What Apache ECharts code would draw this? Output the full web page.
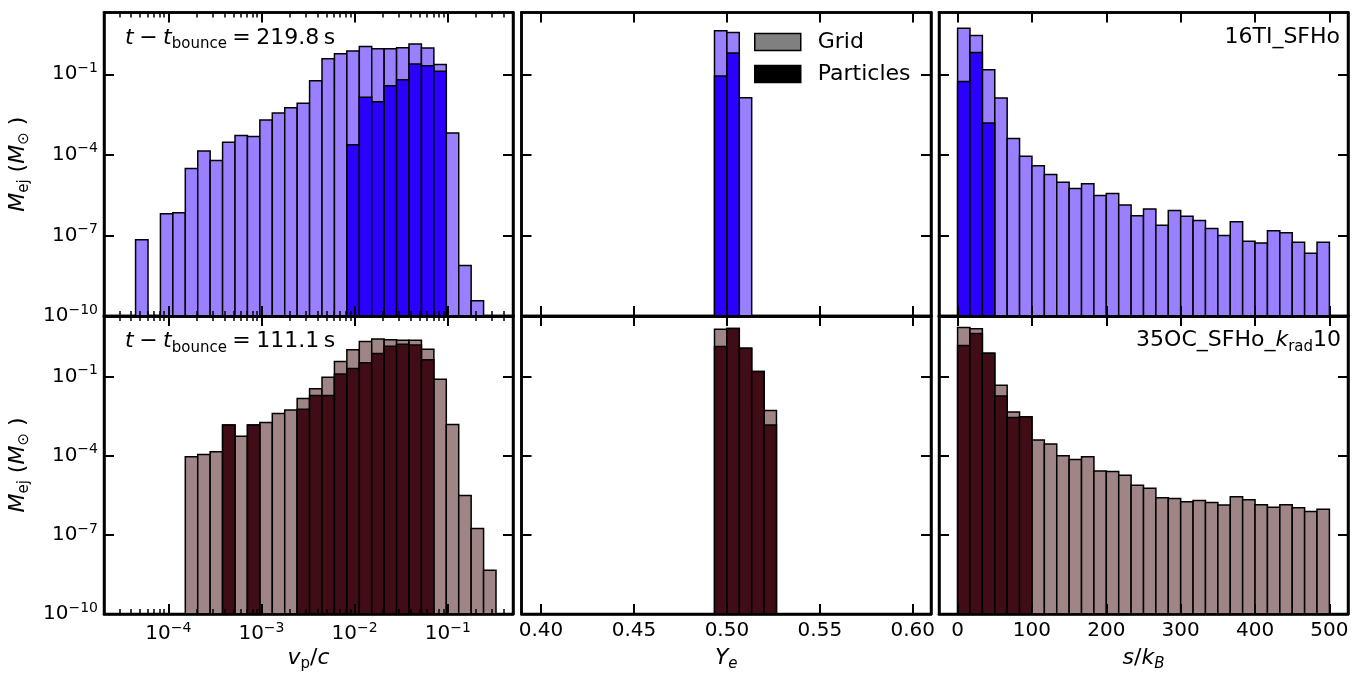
<!DOCTYPE html>
<html>
<head>
<meta charset="utf-8">
<script src="https://cdn.jsdelivr.net/npm/echarts@6/dist/echarts.min.js"></script>
<style>
html,body{margin:0;padding:0;background:#fff;}
#chart{width:1364px;height:673px;}
</style>
</head>
<body>
<div id="chart"></div>
<script>
// ---------------- DATA ----------------
// log10(M_ej / Msun) per histogram bin (null = empty bin)
// v_p/c histogram: log-spaced bins, lower edge (log10) and width (dex)
const VP_BIN_START = -4.351;
const VP_BIN_WIDTH = 0.1334;
const vpTopGrid = [-7.16, null, -6.19, -6.16, -4.51, -3.86, -4.21, -3.53, -3.28, -3.32,
  -2.70, -2.44, -2.25, -2.08, -1.24, -0.42, -0.24, -0.13, 0.03, -0.05,
  -0.05, -0.01, 0.13, -0.02, -0.64, -3.19, -8.12, -9.43, null];
const vpTopPart = [null, null, null, null, null, null, null, null, null, null,
  null, null, null, null, null, null, null, -3.62, -1.86, -2.02,
  -1.43, -1.20, -0.62, -0.68, -0.89, null, null, null, null];
const vpBotGrid = [null, null, null, null, -4.04, -3.95, -3.85, -2.83, -3.26, -2.83,
  -2.74, -2.40, -2.26, -1.83, -1.46, -1.02, -0.43, 0.02, 0.33, 0.43,
  0.40, 0.38, 0.38, 0.04, -1.10, -2.81, -5.51, -6.76, -8.34];
const vpBotPart = [null, null, null, null, null, null, null, -2.83, null, -2.83,
  null, null, null, -2.24, -1.71, -1.71, -0.90, -0.69, -0.47, -0.12,
  0.15, 0.23, 0.20, -0.36, null, null, null, null, null];

// Y_e histogram
const YE_BIN_START = 0.49333;
const YE_BIN_WIDTH = 0.006667;
const yeTopGrid = [0.62, 0.56, -1.87];
const yeTopPart = [-1.06, -0.21, null];
const yeBotGrid = [0.80, 0.83, 0.08, -0.80, -2.28];
const yeBotPart = [0.14, 0.83, 0.08, -0.80, -2.83];

// s/k_B histogram
const S_BIN_START = 0;
const S_BIN_WIDTH = 500 / 30;
const sTopGrid = [0.71, 0.44, -0.83, -1.88, -3.39, -4.05, -4.41, -4.73, -5.02, -5.25,
  -5.08, -5.51, -5.44, -5.87, -6.27, -6.02, -6.62, -6.07, -6.29, -6.44,
  -6.74, -7.00, -6.49, -7.22, -7.28, -6.83, -6.90, -7.25, -7.66, -7.25];
const sTopPart = [-1.27, -0.19, -2.81];
const sBotGrid = [0.86, 0.82, -0.11, -1.33, -2.34, -2.52, -3.40, -3.55, -4.00, -4.14,
  -4.04, -4.58, -4.60, -4.74, -5.12, -5.23, -5.59, -5.62, -5.74, -5.70,
  -5.77, -5.87, -5.55, -5.67, -5.86, -5.95, -5.86, -5.97, -6.11, -6.03];
const sBotPart = [0.18, 0.64, -0.11, -1.73, -2.55, -2.52];

// ticks
const yTicks = [-10, -7, -4, -1];           // log10 M
const vpTicks = [-4, -3, -2, -1];           // log10 v/c
const yeTicks = [0.40, 0.45, 0.50, 0.55, 0.60];
const sTicks = [0, 100, 200, 300, 400, 500];

const panelTimes = ['219.8', '111.1'];
const legendNames = ['Grid', 'Particles'];

// ---------------- STYLE / LAYOUT ----------------
const FONT = 'DejaVu Sans';
const COLORS = {
  top: {grid: '#9a80ff', part: '#2b00ff'},
  bot: {grid: '#a08587', part: '#400c16'}
};
const Y_MIN = -10, Y_MAX = 1.3;
const PX = [{left: 104, width: 409}, {left: 521.5, width: 409.5}, {left: 939, width: 409}];
const PY = [{top: 12.5, height: 303.5}, {top: 316, height: 302.5}];
const XR = [{min: -4.69, max: -0.30}, {min: 0.3895, max: 0.6098}, {min: -25, max: 525}];

const grids = [];
for (let r = 0; r < 2; r++) for (let c = 0; c < 3; c++) {
  grids.push({left: PX[c].left, width: PX[c].width, top: PY[r].top, height: PY[r].height,
    show: true, borderColor: '#000', borderWidth: 2.5, backgroundColor: 'transparent', containLabel: false});
}

const supRich = {
  b: {fontFamily: FONT, fontSize: 20, color: '#000', lineHeight: 26},
  s: {fontFamily: FONT, fontSize: 14, color: '#000', verticalAlign: 'top', lineHeight: 14}
};
function powLabel(v) {
  const e = Math.round(v);
  const es = e < 0 ? '\u2212' + (-e) : String(e);
  return '{b|10}{s|' + es + '}';
}
const nameRich = {
  i: {fontFamily: FONT, fontSize: 22, fontStyle: 'italic', color: '#000', lineHeight: 28},
  n: {fontFamily: FONT, fontSize: 22, color: '#000', lineHeight: 28},
  sub: {fontFamily: FONT, fontSize: 15, color: '#000', verticalAlign: 'bottom', lineHeight: 20},
  isub: {fontFamily: FONT, fontSize: 15, fontStyle: 'italic', color: '#000', verticalAlign: 'bottom', lineHeight: 20}
};

const xAxes = [], yAxes = [];
const xNames = ['{i|v}{sub|p}{n|/}{i|c}', '{i|Y}{isub|e}', '{i|s}{n|/}{i|k}{isub|B}'];
const yName = '{i|M}{sub|ej}{n| (}{i|M}{sub|\u2299}{n| )}';

function minorLogTicks(min, max) {
  const out = [];
  for (let k = -6; k <= 0; k++) for (let m = 2; m <= 9; m++) {
    const v = Math.log10(m) + k;
    if (v > min && v < max) out.push(v);
  }
  return out;
}

function makeX(g, r, c, position, major) {
  const ticks = c === 0 ? vpTicks : (c === 1 ? yeTicks : sTicks);
  const fmt = c === 0 ? powLabel : (c === 1 ? (v => v.toFixed(2)) : (v => String(Math.round(v))));
  const showLab = major && position === 'bottom' && r === 1;
  const ax = {
    gridIndex: g, type: 'value', position: position, min: XR[c].min, max: XR[c].max,
    axisLine: {show: major, onZero: false, lineStyle: {color: '#000', width: 2.5}},
    axisTick: {show: true, inside: true, length: major ? 10 : 5,
      lineStyle: {color: '#000', width: major ? 2 : 1.5},
      customValues: major ? ticks : minorLogTicks(XR[c].min, XR[c].max)},
    axisLabel: {show: showLab, customValues: ticks, formatter: fmt, margin: 7,
      fontFamily: FONT, fontSize: 20, color: '#000', rich: supRich, hideOverlap: false, showMinLabel: true, showMaxLabel: true},
    splitLine: {show: false}, z: 10
  };
  if (showLab) {
    ax.name = xNames[c]; ax.nameLocation = 'middle'; ax.nameGap = 30;
    ax.nameTextStyle = {rich: nameRich};
  }
  xAxes.push(ax);
  return xAxes.length - 1;
}
function makeY(g, r, c, position) {
  const showLab = position === 'left' && c === 0;
  const ax = {
    gridIndex: g, type: 'value', position: position, min: Y_MIN, max: Y_MAX,
    axisLine: {show: true, onZero: false, lineStyle: {color: '#000', width: 2.5}},
    axisTick: {show: true, inside: true, length: 10, lineStyle: {color: '#000', width: 2}, customValues: yTicks},
    axisLabel: {show: showLab, customValues: yTicks, formatter: powLabel, margin: 6,
      fontFamily: FONT, fontSize: 20, color: '#000', rich: supRich, showMinLabel: true, showMaxLabel: true},
    splitLine: {show: false}, z: 10
  };
  if (showLab) {
    ax.name = yName; ax.nameLocation = 'middle'; ax.nameGap = 72;
    ax.nameTextStyle = {rich: nameRich};
  }
  yAxes.push(ax);
  return yAxes.length - 1;
}

const series = [];
function hist(name, start, width, values, color, xi, yi) {
  const data = [];
  values.forEach((v, i) => { if (v !== null) data.push([start + i * width, start + (i + 1) * width, v]); });
  series.push({
    name: name, type: 'custom', xAxisIndex: xi, yAxisIndex: yi, clip: true,
    itemStyle: {color: color},
    encode: {x: [0, 1], y: 2},
    renderItem: function (params, api) {
      const p0 = api.coord([api.value(0), Y_MIN]);
      const p1 = api.coord([api.value(1), api.value(2)]);
      return {type: 'rect', shape: {x: p0[0], y: p1[1], width: p1[0] - p0[0], height: p0[1] - p1[1]},
        style: {fill: color, stroke: '#000', lineWidth: 1.5}};
    },
    data: data, z: 2
  });
}

const panelData = [
  [[VP_BIN_START, VP_BIN_WIDTH, vpTopGrid, vpTopPart], [YE_BIN_START, YE_BIN_WIDTH, yeTopGrid, yeTopPart], [S_BIN_START, S_BIN_WIDTH, sTopGrid, sTopPart]],
  [[VP_BIN_START, VP_BIN_WIDTH, vpBotGrid, vpBotPart], [YE_BIN_START, YE_BIN_WIDTH, yeBotGrid, yeBotPart], [S_BIN_START, S_BIN_WIDTH, sBotGrid, sBotPart]]
];

for (let r = 0; r < 2; r++) for (let c = 0; c < 3; c++) {
  const g = r * 3 + c;
  const xi = makeX(g, r, c, 'bottom', true);
  makeX(g, r, c, 'top', true);
  if (c === 0) { makeX(g, r, c, 'bottom', false); makeX(g, r, c, 'top', false); }
  const yi = makeY(g, r, c, 'left');
  makeY(g, r, c, 'right');
  const col = r === 0 ? COLORS.top : COLORS.bot;
  const d = panelData[r][c];
  hist(legendNames[0], d[0], d[1], d[2], col.grid, xi, yi);
  hist(legendNames[1], d[0], d[1], d[3], col.part, xi, yi);
}

const annRich = {
  i: {fontFamily: FONT, fontSize: 22, fontStyle: 'italic', fill: '#000', lineHeight: 28},
  n: {fontFamily: FONT, fontSize: 22, fill: '#000', lineHeight: 28},
  sub: {fontFamily: FONT, fontSize: 15, fill: '#000', verticalAlign: 'bottom', lineHeight: 20},
  isub: {fontFamily: FONT, fontSize: 15, fontStyle: 'italic', fill: '#000', verticalAlign: 'bottom', lineHeight: 20}
};
const graphics = [];
for (let r = 0; r < 2; r++) {
  graphics.push({type: 'text', x: 125, y: 38 + r * 303.5, z: 20,
    style: {text: '{i|t}{n|\u2005\u2212\u2005}{i|t}{sub|bounce}{n|\u2005=\u2005' + panelTimes[r] + '\u2009s}', rich: annRich,
      align: 'left', verticalAlign: 'middle'}});
}
graphics.push({type: 'text', x: 1340, y: 37, z: 20,
  style: {text: '{n|16TI_SFHo}', rich: annRich, align: 'right', verticalAlign: 'middle'}});
graphics.push({type: 'text', x: 1341, y: 340.5, z: 20,
  style: {text: '{n|35OC_SFHo_}{i|k}{sub|rad}{n|10}', rich: annRich, align: 'right', verticalAlign: 'middle'}});

const option = {
  animation: false,
  backgroundColor: '#fff',
  textStyle: {fontFamily: FONT},
  grid: grids,
  xAxis: xAxes,
  yAxis: yAxes,
  series: series,
  legend: {
    show: true, orient: 'vertical', left: 754, top: 30, padding: 0, icon: 'rect',
    itemWidth: 46, itemHeight: 17, itemGap: 8, selectedMode: false,
    textStyle: {fontFamily: FONT, fontSize: 22, color: '#000', padding: [0, 0, 0, 12], lineHeight: 24},
    itemStyle: {borderColor: '#000', borderWidth: 1.5},
    data: [
      {name: legendNames[0], itemStyle: {color: '#808080', borderColor: '#000', borderWidth: 1.5}},
      {name: legendNames[1], itemStyle: {color: '#000000', borderColor: '#000', borderWidth: 1.5}}
    ]
  },
  graphic: graphics
};

const chart = echarts.init(document.getElementById('chart'), null, {renderer: 'canvas'});
chart.setOption(option);
</script>
</body>
</html>
